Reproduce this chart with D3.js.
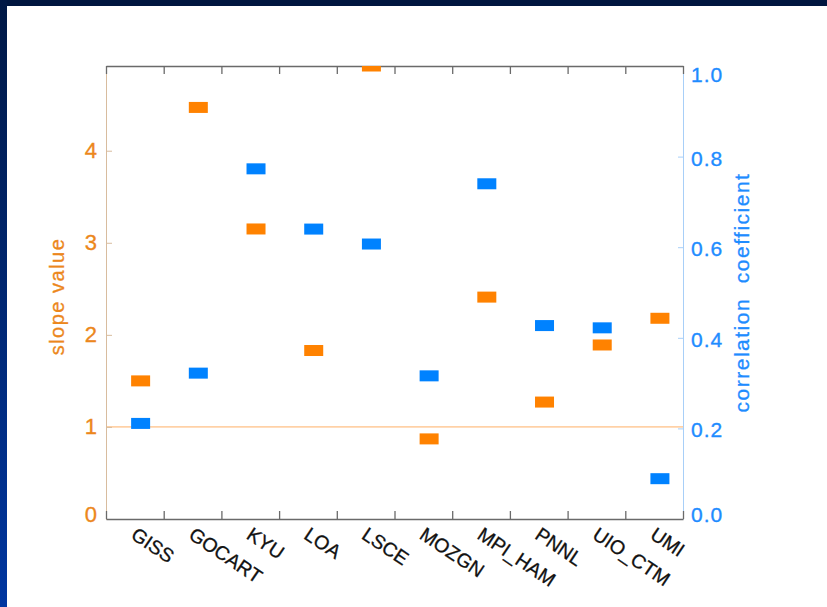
<!DOCTYPE html>
<html>
<head>
<meta charset="utf-8">
<script src="https://cdn.jsdelivr.net/npm/d3@7"></script>
<style>
  html, body { margin: 0; padding: 0; background: #fff; }
  body { width: 827px; height: 607px; overflow: hidden; }
  text { font-family: "Liberation Sans", Arial, Helvetica, sans-serif; }
</style>
</head>
<body>
<svg id="chart" width="827" height="607"></svg>
<script>
// model names on the x axis
var models = ['GISS','GOCART','KYU','LOA','LSCE','MOZGN','MPI_HAM','PNNL','UIO_CTM','UMI'];
// slope value (left axis, orange)
var slopeValues = [1.50, 4.47, 3.15, 1.83, 4.92, 0.87, 2.41, 1.27, 1.89, 2.18];
// correlation coefficient (right axis, blue)
var corrValues = [0.211, 0.322, 0.773, 0.640, 0.607, 0.316, 0.740, 0.427, 0.422, 0.089];
var slopeTicks = [0, 1, 2, 3, 4];
var corrTicks = [0, 0.2, 0.4, 0.6, 0.8, 1.0];

var orange = '#ff8200', blue = '#0082ff';
var orangeText = '#ec871c', blueText = '#1e8cff';

var box = {left: 106, right: 683, top: 66, bottom: 519};
var svg = d3.select('#chart');

// frame bars of the slide
var defs = svg.append('defs');
var grad = defs.append('linearGradient')
    .attr('id', 'leftbar').attr('x1', 0).attr('y1', 0).attr('x2', 0).attr('y2', 1);
grad.append('stop').attr('offset', '0%').attr('stop-color', '#001845');
grad.append('stop').attr('offset', '100%').attr('stop-color', '#0036a0');
svg.append('rect').attr('x', 0).attr('y', 0).attr('width', 827).attr('height', 6).attr('fill', '#001640');
svg.append('rect').attr('x', 0).attr('y', 0).attr('width', 7).attr('height', 607).attr('fill', 'url(#leftbar)');

defs.append('clipPath').attr('id', 'plotclip')
  .append('rect')
    .attr('x', box.left).attr('y', box.top)
    .attr('width', box.right - box.left).attr('height', box.bottom - box.top);

var x = d3.scaleLinear().domain([0, 10]).range([box.left, box.right]);
var ySlope = d3.scaleLinear().domain([0, 4.92]).range([box.bottom, box.top]);
var yCorr = d3.scaleLinear().domain([0, 1]).range([box.bottom, box.top]);

// reference line at slope = 1
svg.append('line')
    .attr('x1', box.left).attr('x2', box.right)
    .attr('y1', ySlope(1)).attr('y2', ySlope(1))
    .attr('stroke', '#ffb066').attr('stroke-width', 1);

// left axis (slope)
var gL = svg.append('g').attr('transform', 'translate(' + box.left + ',0)');
gL.call(d3.axisLeft(ySlope).tickValues(d3.range(0, 4.95, 0.1)).tickSizeInner(-3).tickSizeOuter(0).tickFormat(''));
gL.call(d3.axisLeft(ySlope).tickValues(slopeTicks).tickSizeInner(-6).tickSizeOuter(0).tickPadding(9).tickFormat(d3.format('d')));
gL.selectAll('.domain, line').attr('stroke', '#d8bc9e');
gL.selectAll('text').attr('fill', orangeText).attr('font-size', 22)
    .attr('stroke', orangeText).attr('stroke-width', 0.35)
    .attr('dy', function(d) { return d === 0 ? '0.1em' : '0.32em'; });

// right axis (correlation)
var gR = svg.append('g').attr('transform', 'translate(' + box.right + ',0)');
gR.call(d3.axisRight(yCorr).tickValues(d3.range(0, 1.01, 0.05)).tickSizeInner(-2.5).tickSizeOuter(0).tickFormat(''));
gR.call(d3.axisRight(yCorr).tickValues(corrTicks).tickSizeInner(-5).tickSizeOuter(0).tickPadding(8).tickFormat(d3.format('.1f')));
gR.selectAll('.domain, line').attr('stroke', '#a8cff8');
gR.selectAll('text').attr('fill', blueText).attr('font-size', 21).attr('letter-spacing', 1)
    .attr('stroke', blueText).attr('stroke-width', 0.35)
    .attr('dy', function(d) { return d === 1 ? '0.75em' : d === 0 ? '0.1em' : '0.4em'; });

// top and bottom axes
var gT = svg.append('g').attr('transform', 'translate(0,' + box.top + ')');
gT.call(d3.axisTop(x).tickValues(d3.range(0, 11)).tickSizeInner(-8).tickSizeOuter(0).tickFormat(''));
var gB = svg.append('g').attr('transform', 'translate(0,' + box.bottom + ')');
gB.call(d3.axisBottom(x).tickValues(d3.range(0, 11)).tickSizeInner(-8).tickSizeOuter(0).tickFormat(''));
[gT, gB].forEach(function(g) {
  g.selectAll('.domain, line').attr('stroke', '#6a6a6a').attr('stroke-width', 1.3);
});

// category labels, rotated
svg.append('g').selectAll('text')
    .data(models)
  .enter().append('text')
    .attr('transform', function(d, i) { return 'translate(' + (x(i + 0.6) - 3) + ',' + (box.bottom + 7) + ') rotate(34)'; })
    .attr('dy', '0.72em')
    .attr('font-size', 19.5)
    .attr('fill', '#111')
    .attr('stroke', '#111').attr('stroke-width', 0.3)
    .text(function(d) { return d; });

// markers
var mw = 19, mh = 11;
var marks = svg.append('g').attr('clip-path', 'url(#plotclip)');
marks.selectAll('rect.slope')
    .data(slopeValues)
  .enter().append('rect')
    .attr('class', 'slope')
    .attr('x', function(d, i) { return x(i + 0.6) - mw / 2; })
    .attr('y', function(d) { return ySlope(d) - mh / 2; })
    .attr('width', mw).attr('height', mh)
    .attr('fill', orange);
marks.selectAll('rect.corr')
    .data(corrValues)
  .enter().append('rect')
    .attr('class', 'corr')
    .attr('x', function(d, i) { return x(i + 0.6) - mw / 2; })
    .attr('y', function(d) { return yCorr(d) - mh / 2; })
    .attr('width', mw).attr('height', mh)
    .attr('fill', blue);

// axis titles
svg.append('text')
    .attr('transform', 'translate(64,' + ((box.top + box.bottom) / 2 + 4) + ') rotate(-90)')
    .attr('text-anchor', 'middle')
    .attr('font-size', 20)
    .attr('letter-spacing', 1.5)
    .attr('fill', orangeText)
    .attr('stroke', orangeText).attr('stroke-width', 0.3)
    .text('slope value');

svg.append('text')
    .attr('transform', 'translate(749,' + ((box.top + box.bottom) / 2) + ') rotate(-90)')
    .attr('text-anchor', 'middle')
    .attr('font-size', 21)
    .attr('letter-spacing', 1.5)
    .attr('fill', blueText)
    .attr('stroke', blueText).attr('stroke-width', 0.3)
    .style('white-space', 'pre')
    .text('correlation  coefficient');
</script>
</body>
</html>
